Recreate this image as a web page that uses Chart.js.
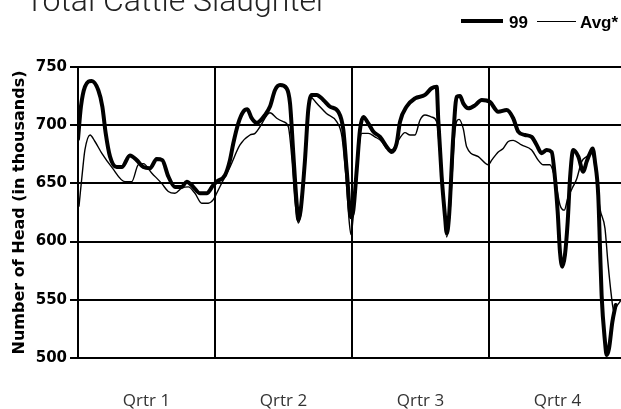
<!DOCTYPE html>
<html lang="en">
<head>
  <meta charset="UTF-8" />
  <title>Total Cattle Slaughter</title>
  <script src="https://cdn.jsdelivr.net/npm/chart.js"></script>
  <style>
    html, body { margin: 0; padding: 0; background: #fff; overflow: hidden; }
    #wrap { position: relative; width: 621px; height: 409px; }
    #title {
      position: absolute; left: 25px; top: -16px;
      font: 300 32px/32px Roboto, sans-serif; color: #222; white-space: nowrap;
    }
    .key-line { position: absolute; background: #000; }
    .key-text {
      position: absolute; top: 14px;
      font: bold 17px/17px "Liberation Sans", sans-serif; color: #000; white-space: nowrap;
    }
  </style>
</head>
<body>
<div id="wrap">
  <canvas id="chart" width="621" height="409"></canvas>
  <div id="title">Total Cattle Slaughter</div>
  <div id="legend"></div>
</div>

<script>
// week of year (0-52) and head slaughtered (thousands)
const weeks99 = [0.0, 0.28, 0.66, 1.30, 1.93, 2.31, 2.63, 3.04, 3.67, 4.15, 4.93, 5.57, 6.20, 6.83, 7.47, 8.00,
  8.57, 9.20, 9.84, 10.32, 10.94, 11.58, 12.21, 12.84, 13.16, 13.95, 14.42, 14.74, 15.21, 15.69, 16.07, 16.48,
  16.96, 17.75, 18.22, 18.69, 19.17, 19.80, 20.12, 20.43, 20.75, 20.91, 21.13, 21.54, 21.85, 22.18, 22.65, 23.28,
  23.91, 24.70, 25.18, 25.50, 25.91, 26.13, 26.45, 26.76, 27.07, 27.55, 28.02, 28.66, 29.29, 29.77, 30.24, 30.56,
  31.19, 31.98, 32.93, 33.56, 34.04, 34.19, 34.51, 34.83, 34.99, 35.21, 35.61, 35.94, 36.25, 36.56, 37.04, 37.67,
  38.31, 39.09, 39.88, 40.68, 41.30, 41.78, 42.42, 43.05, 43.53, 44.00, 44.48, 44.95, 45.27, 45.52, 45.74, 45.96,
  46.21, 46.47, 46.69, 47.00, 47.48, 47.95, 48.27, 48.59, 48.84, 49.06, 49.37, 49.53, 49.69, 50.01, 50.17, 50.39,
  50.71, 51.02];
const head99 = [688, 716, 733, 738, 730, 716, 693, 673, 664, 664, 674, 670, 664, 663, 671, 670,
  656, 647, 647, 651.5, 647, 641.5, 641.5, 648.6, 651.5, 657, 670, 684.5, 701.6, 711.6, 713.6, 706,
  702, 708.8, 716, 730, 734.5, 731.7, 718.8, 676, 633, 618.6, 627, 670, 713, 726, 726, 721.7,
  716, 711.6, 696, 661.5, 621, 627, 661.5, 696, 707, 701.6, 694.5, 690, 681.5, 677, 684.5, 703,
  716, 723, 726, 731.7, 733, 704.5, 656, 621.4, 607, 621.4, 690, 724.5, 725, 718.8, 714.5, 717,
  721.7, 720, 711.6, 713, 706, 694.5, 691.6, 690, 683, 676, 678.7, 677, 654, 625.7, 591, 578.5,
  588.5, 617, 654, 678.7, 673, 660, 668.7, 676, 680, 668.7, 640, 597, 554, 514, 502.5, 508,
  531, 545.5];

const weeksAvg = [0.09, 0.50, 0.66, 1.14, 1.61, 2.25, 3.20, 4.46, 5.10, 5.72, 6.20, 6.99, 7.94, 8.57, 9.20, 9.84,
  10.47, 11.10, 11.74, 12.36, 12.84, 13.16, 13.79, 14.42, 15.37, 16.32, 16.80, 17.27, 18.22, 18.86, 19.48, 19.96,
  20.31, 20.59, 20.91, 21.16, 21.54, 22.02, 22.65, 23.58, 24.55, 25.05, 25.43, 25.76, 25.91, 26.15, 26.48, 26.93,
  27.55, 28.18, 28.82, 29.29, 29.77, 30.40, 31.03, 31.51, 31.98, 32.46, 32.93, 33.56, 34.04, 34.30, 34.59, 34.99,
  35.30, 35.59, 35.78, 36.16, 36.56, 36.88, 37.99, 38.94, 39.26, 39.88, 40.35, 40.83, 41.30, 42.09, 43.05, 43.67,
  44.15, 44.78, 45.27, 45.74, 46.15, 46.47, 46.91, 47.33, 47.80, 48.27, 48.68, 49.06, 49.53, 50.01, 50.28, 50.61,
  50.85, 51.08, 51.49];
const headAvg = [630, 667, 679, 691.6, 686, 676, 664, 651.5, 651.5, 666, 667, 659, 650, 643, 641.5, 646,
  647, 641.5, 633, 633, 636, 641.5, 653, 664, 683, 691.6, 693, 698.7, 710.7, 706, 703, 698.7,
  670, 635, 616, 625, 668, 724.5, 718.8, 710, 703, 690, 655, 615, 606, 625, 665, 693,
  693, 690, 686, 680, 679, 687, 693.6, 691.6, 691.6, 704.5, 708.8, 707, 703, 680, 645, 604,
  625, 670, 696, 705, 697, 681.5, 673, 666, 670, 677, 680, 686, 687, 683, 678.7, 670,
  666, 666, 654, 631.5, 627, 637, 646, 654, 668.7, 673, 676, 666, 628.6, 611.4, 583, 554,
  540, 544, 549];

const quarterLines = [0, 13, 26, 39];
const quarterMids = [6.5, 19.5, 32.5, 45.5];
const quarterLabels = ['Qrtr 1', 'Qrtr 2', 'Qrtr 3', 'Qrtr 4'];
const yTicks = [500, 550, 600, 650, 700, 750];

function pairs(xs, ys) {
  return xs.map((x, i) => ({ x: x, y: ys[i] }));
}

const chart = new Chart(document.getElementById('chart'), {
  type: 'line',
  data: {
    datasets: [
      {
        label: '99',
        data: pairs(weeks99, head99),
        borderColor: '#000',
        backgroundColor: '#000',
        borderWidth: 4,
        pointRadius: 0,
        cubicInterpolationMode: 'monotone',
        borderJoinStyle: 'round',
        borderCapStyle: 'round'
      },
      {
        label: 'Avg*',
        data: pairs(weeksAvg, headAvg),
        borderColor: '#000',
        backgroundColor: '#000',
        borderWidth: 1.4,
        pointRadius: 0,
        cubicInterpolationMode: 'monotone',
        borderJoinStyle: 'round'
      }
    ]
  },
  options: {
    responsive: false,
    animation: false,
    layout: { padding: { top: 67, left: 0, right: 0, bottom: 0 } },
    plugins: {
      title: { display: false },
      tooltip: { enabled: false },
      legend: { display: false }
    },
    scales: {
      x: {
        type: 'linear',
        min: 0,
        max: 51.53,
        afterBuildTicks: (scale) => {
          scale.ticks = quarterLines.concat(quarterMids).sort((a, b) => a - b).map(v => ({ value: v }));
        },
        afterFit: (scale) => { scale.height = 51; },
        grid: {
          drawTicks: false,
          lineWidth: 2,
          color: (ctx) => (ctx.tick && quarterLines.includes(ctx.tick.value) ? '#000' : 'rgba(0,0,0,0)')
        },
        border: { color: '#000', width: 2 },
        ticks: {
          autoSkip: false,
          maxRotation: 0,
          padding: 33,
          color: '#333',
          font: { family: 'Open Sans', size: 17 },
          callback: (v) => {
            const i = quarterMids.indexOf(v);
            return i >= 0 ? quarterLabels[i] : '';
          }
        }
      },
      y: {
        min: 500,
        max: 750,
        afterBuildTicks: (scale) => { scale.ticks = yTicks.map(v => ({ value: v })); },
        afterFit: (scale) => { scale.width = 78; },
        grid: { color: '#000', lineWidth: 2, tickLength: 8 },
        border: { color: '#000', width: 2 },
        ticks: {
          padding: 3,
          color: '#000',
          font: { family: 'DejaVu Sans', size: 15, weight: 'bold' }
        },
        title: {
          display: true,
          text: 'Number of Head (in thousands)',
          color: '#000',
          padding: { top: 10, bottom: 0 },
          font: { family: 'DejaVu Sans', size: 16, weight: 'bold' }
        }
      }
    }
  }
});

// legend keys: swatch position/size per dataset, text from the dataset labels
const keyLayout = [
  { lineLeft: 461, lineWidth: 42, lineTop: 19, lineHeight: 4, textLeft: 509 },
  { lineLeft: 537, lineWidth: 39, lineTop: 20.5, lineHeight: 1.5, textLeft: 580 }
];
const legendEl = document.getElementById('legend');
chart.data.datasets.forEach((ds, i) => {
  const k = keyLayout[i];
  const line = document.createElement('div');
  line.className = 'key-line';
  line.style.left = k.lineLeft + 'px';
  line.style.width = k.lineWidth + 'px';
  line.style.top = k.lineTop + 'px';
  line.style.height = k.lineHeight + 'px';
  legendEl.appendChild(line);
  const txt = document.createElement('div');
  txt.className = 'key-text';
  txt.style.left = k.textLeft + 'px';
  txt.textContent = ds.label;
  legendEl.appendChild(txt);
});
</script>
</body>
</html>
